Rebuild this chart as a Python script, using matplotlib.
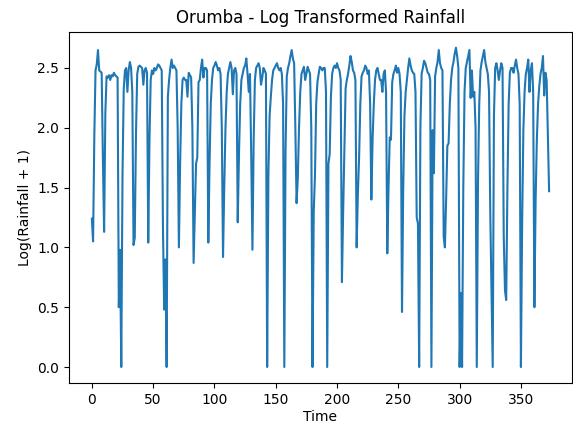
import matplotlib
matplotlib.use("Agg")
import matplotlib.pyplot as plt
import numpy as np

# Log-transformed monthly rainfall values,
# grouped by season (each group starts at a dry-season low)
season_00 = [1.24, 1.05, 1.92, 2.48, 2.53, 2.65, 2.48, 2.47, 2.46, 1.75]
season_01 = [1.13, 2.12, 2.43, 2.42, 2.44, 2.40, 2.44, 2.43, 2.46, 2.44, 2.43, 2.42]
season_02 = [0.50, 0.98, 0.00, 1.60, 2.32, 2.48, 2.50, 2.30, 2.48, 2.55, 2.50, 2.30]
season_03 = [1.02, 1.08, 1.95, 2.45, 2.51, 2.52, 2.51, 2.50, 2.36, 2.48, 2.50, 2.46]
season_04 = [1.04, 1.90, 2.40, 2.48, 2.45, 2.50, 2.48, 2.50, 2.53, 2.52, 2.50, 2.48, 1.17]
season_05 = [0.48, 0.90, 0.00, 2.26, 2.40, 2.50, 2.57, 2.50, 2.52, 2.50, 2.48, 2.00]
season_06 = [1.00, 1.70, 2.20, 2.40, 2.42, 2.40, 2.40, 2.26, 2.46, 2.44, 2.42, 2.00]
season_07 = [0.87, 1.30, 1.70, 1.75, 2.38, 2.40, 2.50, 2.57, 2.42, 2.50, 2.50, 2.48]
season_08 = [1.04, 1.70, 2.20, 2.40, 2.50, 2.52, 2.55, 2.52, 2.48, 2.50, 2.45, 2.00]
season_09 = [0.92, 1.50, 2.00, 2.30, 2.45, 2.50, 2.55, 2.50, 2.28, 2.48, 2.50, 2.45]
season_10 = [1.21, 1.77, 2.20, 2.40, 2.45, 2.50, 2.52, 2.58, 2.45, 2.30, 2.45, 1.77]
season_11 = [0.98, 1.90, 2.40, 2.50, 2.52, 2.54, 2.50, 2.36, 2.42, 2.50, 2.48, 2.45]
season_12 = [0.00, 1.60, 2.10, 2.26, 2.40, 2.48, 2.50, 2.52, 2.54, 2.50, 2.48, 2.50, 2.45, 2.20]
season_13 = [0.00, 1.80, 2.43, 2.50, 2.54, 2.60, 2.65, 2.58, 2.54, 2.00]
season_14 = [1.37, 1.58, 2.00, 2.30, 2.45, 2.48, 2.51, 2.40, 2.45, 2.51, 2.48, 2.45, 2.00]
season_15 = [0.00, 1.30, 1.60, 2.20, 2.38, 2.45, 2.51, 2.50, 2.48, 2.50, 2.50, 2.30]
season_16 = [0.00, 1.70, 1.78, 2.26, 2.45, 2.50, 2.52, 2.50, 2.54, 2.50, 2.48, 2.40]
season_17 = [0.71, 1.30, 1.80, 2.33, 2.40, 2.45, 2.52, 2.60, 2.55, 2.48, 2.46, 2.40]
season_18 = [1.00, 1.45, 1.75, 2.20, 2.43, 2.46, 2.48, 2.52, 2.50, 2.45, 2.48, 2.20]
season_19 = [1.40, 1.90, 2.20, 2.40, 2.48, 2.50, 2.45, 2.40, 2.40, 2.30, 2.45, 2.48, 2.30]
season_20 = [0.95, 1.50, 1.92, 1.90, 2.38, 2.45, 2.48, 2.52, 2.46, 2.50, 2.45, 2.30]
season_21 = [0.46, 1.50, 2.10, 2.30, 2.40, 2.50, 2.58, 2.52, 2.48, 2.46, 2.45, 2.30, 1.25]
season_22 = [1.20, 0.00, 2.00, 2.45, 2.50, 2.56, 2.54, 2.50, 2.46, 2.45, 2.40]
season_23 = [0.00, 1.98, 1.62, 2.43, 2.50, 2.55, 2.65, 2.54, 2.50, 2.48, 1.09]
season_24 = [1.00, 1.40, 1.85, 1.87, 2.20, 2.40, 2.50, 2.55, 2.62, 2.67, 2.60, 2.50, 0.00, 0.62, 0.00]
season_25 = [1.50, 2.30, 2.50, 2.55, 2.60, 2.65, 2.25, 2.48, 2.26, 2.30, 2.00]
season_26 = [0.00, 1.55, 2.20, 2.48, 2.55, 2.60, 2.65, 2.55, 2.50, 2.45, 2.30, 1.29, 0.64, 0.00]
season_27 = [2.10, 2.50, 2.54, 2.48, 2.40, 2.48, 2.54, 2.50, 1.09, 0.64, 0.56]
season_28 = [1.50, 2.20, 2.46, 2.50, 2.50, 2.46, 2.52, 2.57, 2.50, 2.45, 2.20]
season_29 = [0.00, 1.20, 1.98, 2.30, 2.45, 2.50, 2.57, 2.30, 2.48, 2.54, 2.30]
season_30 = [0.50, 1.40, 1.90, 2.20, 2.35, 2.45, 2.50, 2.60, 2.27, 2.46, 2.40, 1.95, 1.47]

seasons = [season_00, season_01, season_02, season_03, season_04, season_05,
           season_06, season_07, season_08, season_09, season_10, season_11,
           season_12, season_13, season_14, season_15, season_16, season_17,
           season_18, season_19, season_20, season_21, season_22, season_23,
           season_24, season_25, season_26, season_27, season_28, season_29,
           season_30]

log_rainfall = [v for s in seasons for v in s]
time_index = np.arange(len(log_rainfall))

fig = plt.figure(figsize=(5.73, 4.23), dpi=100)
ax = fig.add_axes([0.1204, 0.0946, 0.8778, 0.8305])
ax.plot(time_index, log_rainfall, color="#1f77b4", linewidth=1.5)
ax.set_title("Orumba - Log Transformed Rainfall")
ax.set_xlabel("Time", labelpad=2.5)
ax.set_ylabel("Log(Rainfall + 1)")
fig.savefig("out.png", dpi=100)
